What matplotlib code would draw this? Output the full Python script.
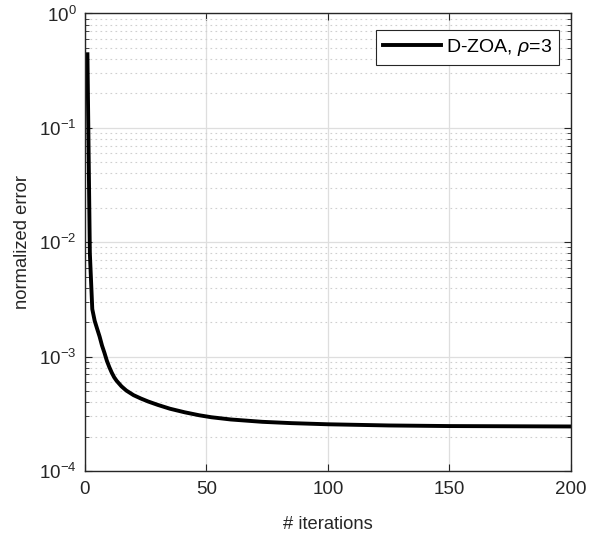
import numpy as np
import matplotlib
matplotlib.use("Agg")
import matplotlib.pyplot as plt
from matplotlib.ticker import LogLocator, NullFormatter

plt.rcParams['font.family'] = ['Liberation Sans', 'DejaVu Sans']
plt.rcParams['mathtext.fontset'] = 'custom'
plt.rcParams['mathtext.rm'] = 'Liberation Sans'
plt.rcParams['mathtext.it'] = 'Liberation Sans:italic'

# values
iters = [1, 2, 3, 4, 5, 6, 7, 8, 9, 10, 11, 12, 13, 15, 17, 20, 23, 26, 30, 35,
         41, 47, 52, 60, 73, 85, 100, 125, 150, 175, 200]
err = [0.44, 8e-3, 2.6e-3, 2.05e-3, 1.75e-3, 1.5e-3, 1.25e-3, 1.08e-3, 9.2e-4,
       8.1e-4, 7.25e-4, 6.6e-4, 6.15e-4, 5.5e-4, 5.05e-4, 4.6e-4, 4.3e-4,
       4.05e-4, 3.78e-4, 3.5e-4, 3.26e-4, 3.07e-4, 2.95e-4, 2.82e-4, 2.69e-4,
       2.62e-4, 2.56e-4, 2.5e-4, 2.47e-4, 2.46e-4, 2.45e-4]

fig = plt.figure(figsize=(5.89, 5.39), dpi=100)
ax = fig.add_axes([0.1443, 0.1262, 0.825, 0.8488])

ax.semilogy(iters, err, color='black', lw=2.8, label=r'D-ZOA, $\rho$=3')

ax.set_xlim(0, 200)
ax.set_ylim(1e-4, 1e0)
ax.set_xticks([0, 50, 100, 150, 200])
ax.yaxis.set_major_locator(LogLocator(base=10, numticks=10))
ax.yaxis.set_minor_locator(LogLocator(base=10, subs=np.arange(2, 10), numticks=50))
ax.yaxis.set_minor_formatter(NullFormatter())

ax.grid(True, which='major', color='#dedede', lw=0.9, ls='-')
ax.grid(True, which='minor', axis='y', color='#cfcfcf', lw=0.8, ls=(0, (1.5, 3)))
ax.set_axisbelow(True)

gray = '#262626'
for s in ax.spines.values():
    s.set_color(gray)
    s.set_linewidth(1.0)
ax.tick_params(which='both', direction='in', top=True, right=True, colors=gray,
               labelcolor='#262626', labelsize=13.5)
ax.tick_params(which='major', length=5)
ax.tick_params(which='minor', length=3)
ax.tick_params(axis='x', pad=7)
ax.tick_params(axis='y', pad=6)

ax.set_xlabel('# iterations', fontsize=13.2, color='#262626', labelpad=13)
ax.set_ylabel('normalized error', fontsize=13.2, color='#262626', labelpad=6)

leg = ax.legend(loc='upper right', fontsize=14, fancybox=False, framealpha=1,
                edgecolor='#262626', handlelength=3.0, handletextpad=0.25,
                borderpad=0.35, borderaxespad=0, bbox_to_anchor=(0.975, 0.964))
leg.get_frame().set_linewidth(0.8)

fig.savefig('out.png', dpi=100)
